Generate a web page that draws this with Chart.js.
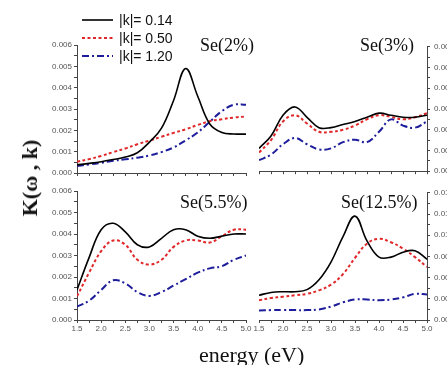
<!DOCTYPE html>
<html>
<head>
<meta charset="utf-8">
<script src="https://cdn.jsdelivr.net/npm/chart.js@4.4.1/dist/chart.umd.min.js"></script>
<style>
    html, body { margin: 0; padding: 0; background: #fff; }
    body { width: 447px; height: 365px; overflow: hidden; position: relative; }
    canvas { position: absolute; }
    .lbl { position: absolute; white-space: nowrap; transform: translateY(-50%); color: #111; }
    .panel-title { font-family: "Liberation Serif", "DejaVu Serif", serif; font-size: 18px; line-height: 18px; }
    #yTitle { font-family: "Liberation Serif", serif; font-weight: bold; font-size: 22px; line-height: 22px;
              left: 30px; top: 178px; transform: translate(-50%, -50%) rotate(-90deg); }
    #xTitle { font-family: "Liberation Serif", serif; font-size: 22px; line-height: 22px; left: 199px; top: 355px; }
    #legend { position: absolute; left: 78px; top: 8px; }
</style>
</head>
<body>

<canvas id="se2" width="214" height="142" style="left:40px;top:38px;"></canvas>
<canvas id="se3" width="209" height="142" style="left:248px;top:38px;"></canvas>
<canvas id="se55" width="214" height="150" style="left:40px;top:184px;"></canvas>
<canvas id="se125" width="209" height="150" style="left:248px;top:184px;"></canvas>

<svg id="legend" width="110" height="60"></svg>

<div class="lbl panel-title" style="left:200px;top:45px;">Se(2%)</div>
<div class="lbl panel-title" style="left:360px;top:45px;">Se(3%)</div>
<div class="lbl panel-title" style="left:180px;top:202px;">Se(5.5%)</div>
<div class="lbl panel-title" style="left:341px;top:202px;">Se(12.5%)</div>
<div class="lbl" id="yTitle">K(ω , k)</div>
<div class="lbl" id="xTitle">energy (eV)</div>

<script>
// Data
const energy = [1.5, 1.75, 2.0, 2.25, 2.5, 2.75, 3.0, 3.25, 3.5, 3.75, 4.0, 4.25, 4.5, 4.75, 5.0];
const seriesNames = ['|k|= 0.14', '|k|= 0.50', '|k|= 1.20'];

// Se(2%)
const se2_k014 = [0.00038, 0.00045, 0.00053, 0.00063, 0.00075, 0.00095, 0.00145, 0.0021, 0.0034, 0.0049, 0.0036, 0.0023, 0.0019, 0.00183, 0.00182];
const se2_k050 = [0.00053, 0.00065, 0.0008, 0.00098, 0.00115, 0.00135, 0.00152, 0.0017, 0.00188, 0.00205, 0.00225, 0.00243, 0.00252, 0.0026, 0.00265];
const se2_k120 = [0.00033, 0.0004, 0.00048, 0.00057, 0.00064, 0.00072, 0.00082, 0.00098, 0.0012, 0.00153, 0.0019, 0.0024, 0.0029, 0.0032, 0.0032];

// Se(3%)
const se3_k014 = [0.0011, 0.0017, 0.0027, 0.0031, 0.0026, 0.0021, 0.0021, 0.00225, 0.0024, 0.0026, 0.0028, 0.0027, 0.0026, 0.0026, 0.0027];
const se3_k050 = [0.0009, 0.0015, 0.0024, 0.0027, 0.0023, 0.0019, 0.0019, 0.002, 0.0022, 0.0025, 0.0027, 0.00262, 0.0025, 0.0026, 0.0028];
const se3_k120 = [0.00053, 0.0008, 0.0013, 0.0016, 0.0013, 0.00105, 0.0011, 0.0014, 0.00152, 0.0014, 0.0019, 0.0025, 0.0022, 0.0021, 0.0024];

// Se(5.5%)
const se55_k014 = [0.0014, 0.0029, 0.0042, 0.0045, 0.0041, 0.0035, 0.0034, 0.0038, 0.0042, 0.0042, 0.0039, 0.0038, 0.0039, 0.004, 0.004];
const se55_k050 = [0.0011, 0.0022, 0.0032, 0.0037, 0.0035, 0.0028, 0.00258, 0.0028, 0.0034, 0.0037, 0.0037, 0.0036, 0.0039, 0.0042, 0.0042];
const se55_k120 = [0.00062, 0.0009, 0.0014, 0.00185, 0.0017, 0.0013, 0.00112, 0.0013, 0.0016, 0.0019, 0.0022, 0.0024, 0.0025, 0.0028, 0.003];

// Se(12.5%)
const se125_k014 = [0.0035, 0.0039, 0.004, 0.004, 0.0043, 0.0057, 0.0082, 0.0118, 0.0147, 0.0112, 0.0089, 0.0089, 0.0096, 0.0098, 0.0086];
const se125_k050 = [0.0028, 0.0031, 0.0033, 0.0035, 0.0037, 0.0042, 0.005, 0.0065, 0.0088, 0.0108, 0.0115, 0.011, 0.0101, 0.0089, 0.0075];
const se125_k120 = [0.00135, 0.0014, 0.0014, 0.0014, 0.0014, 0.0015, 0.0019, 0.0025, 0.0029, 0.0029, 0.0028, 0.0029, 0.0032, 0.0037, 0.0036];

// Line styles for the three |k| values
const lineStyles = [
    { color: '#000000', width: 1.6, dash: [] },
    { color: '#e0282a', width: 2, dash: [3, 2.5] },
    { color: '#1e1e9c', width: 2, dash: [7, 3, 2, 3] }
];

const AXIS_COLOR = '#444';
const TICK_FONT = { family: 'Liberation Sans, Arial, sans-serif', size: 8 };

function isMultiple(v, step) {
    return Math.abs(Math.round(v / step) * step - v) < step * 1e-6;
}

// Build one of the four panels
function makePanel(id, values, opts) {
    const ctx = document.getElementById(id);
    const datasets = values.map((vals, i) => ({
        label: seriesNames[i],
        data: energy.map((e, j) => ({ x: e, y: vals[j] })),
        borderColor: lineStyles[i].color,
        borderWidth: lineStyles[i].width,
        borderDash: lineStyles[i].dash,
        pointRadius: 0,
        fill: false,
        tension: 0.4
    }));

    return new Chart(ctx, {
        type: 'line',
        data: { datasets: datasets },
        options: {
            responsive: false,
            animation: false,
            layout: { padding: opts.padding },
            plugins: { legend: { display: false }, tooltip: { enabled: false } },
            scales: {
                x: {
                    type: 'linear',
                    min: 1.5,
                    max: 5.0,
                    border: { color: AXIS_COLOR, width: 1 },
                    grid: { drawOnChartArea: false, tickLength: 3, color: AXIS_COLOR },
                    ticks: {
                        stepSize: 0.25,
                        autoSkip: false,
                        maxRotation: 0,
                        padding: 1,
                        color: '#555',
                        font: TICK_FONT,
                        callback: (v) => (opts.xLabels && isMultiple(v, 0.5)) ? v.toFixed(1) : ''
                    },
                    afterFit: (scale) => { scale.height = opts.xHeight; }
                },
                y: {
                    position: opts.ySide,
                    min: 0,
                    max: opts.yMax,
                    border: { color: AXIS_COLOR, width: 1 },
                    grid: { drawOnChartArea: false, tickLength: 3, color: AXIS_COLOR },
                    ticks: {
                        stepSize: opts.yStep / 2,
                        autoSkip: false,
                        padding: opts.ySide === 'right' ? 4 : 2,
                        color: '#555',
                        font: TICK_FONT,
                        callback: (v) => isMultiple(v, opts.yStep) ? v.toFixed(3) : ''
                    },
                    afterFit: (scale) => { scale.width = opts.yWidth; }
                }
            }
        }
    });
}

makePanel('se2', [se2_k014, se2_k050, se2_k120], {
    padding: { top: 7, right: 8, left: 0, bottom: 0 },
    ySide: 'left', yWidth: 37, yMax: 0.006, yStep: 0.001, xLabels: false, xHeight: 7
});
makePanel('se3', [se3_k014, se3_k050, se3_k120], {
    padding: { top: 7, right: 0, left: 11, bottom: 0 },
    ySide: 'right', yWidth: 30, yMax: 0.006, yStep: 0.001, xLabels: false, xHeight: 7
});
makePanel('se55', [se55_k014, se55_k050, se55_k120], {
    padding: { top: 7, right: 8, left: 0, bottom: 0 },
    ySide: 'left', yWidth: 37, yMax: 0.006, yStep: 0.001, xLabels: true, xHeight: 14
});
makePanel('se125', [se125_k014, se125_k050, se125_k120], {
    padding: { top: 7, right: 0, left: 11, bottom: 0 },
    ySide: 'right', yWidth: 30, yMax: 0.018, yStep: 0.003, xLabels: true, xHeight: 14
});

// Legend (top left, overlapping the first panel)
const legend = document.getElementById('legend');
seriesNames.forEach((name, i) => {
    const y = 12 + i * 18;
    const st = lineStyles[i];
    legend.innerHTML += `<line x1="4" y1="${y}" x2="35" y2="${y}" stroke="${st.color}" stroke-width="${st.width}"
        stroke-dasharray="${st.dash.join(' ')}"/>` +
        `<text x="41" y="${y + 5}" font-family="Liberation Sans, Arial, sans-serif" font-size="14" fill="#111">${name}</text>`;
});
</script>
</body>
</html>
